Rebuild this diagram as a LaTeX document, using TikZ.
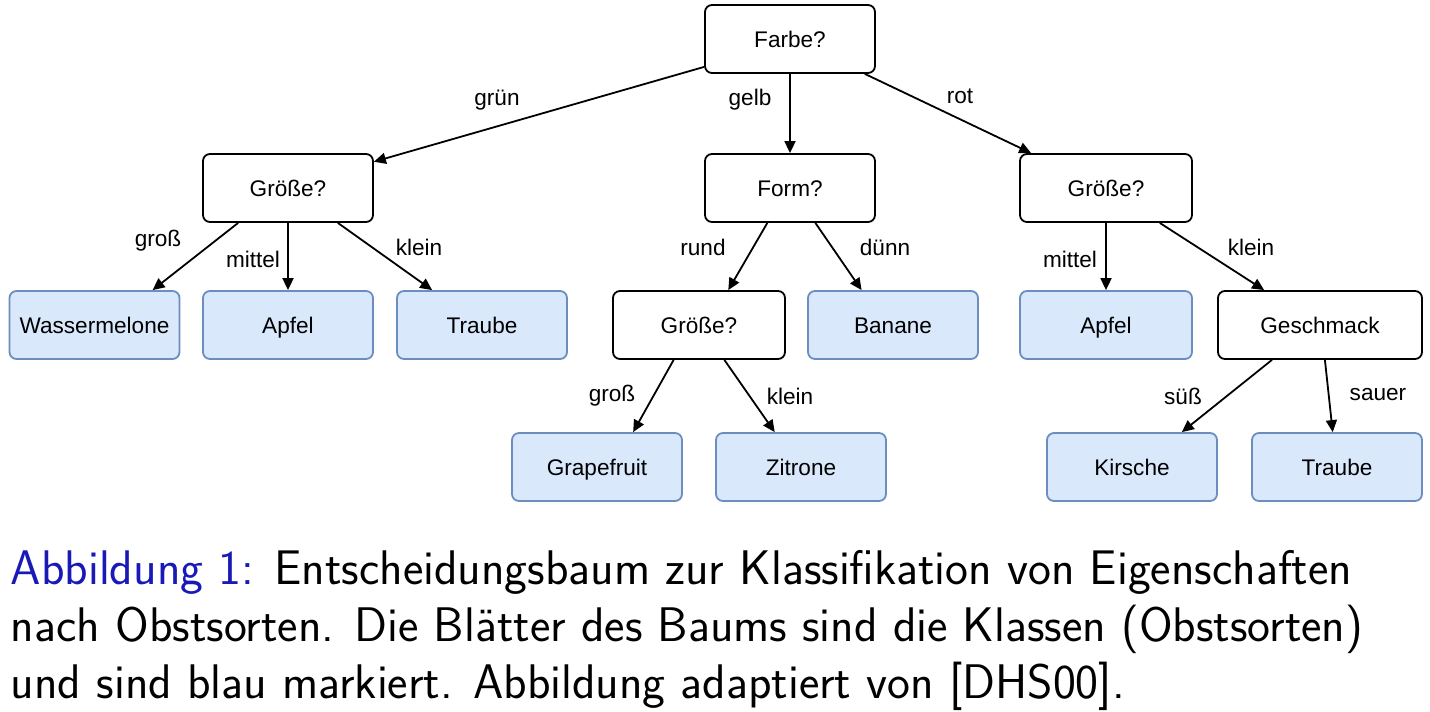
\documentclass[tikz,border=0pt]{standalone}
\usepackage{fontspec}
\newfontfamily\arialfont{Liberation Sans}
\usepackage{tikz}
\usetikzlibrary{arrows.meta}
\definecolor{leaffill}{HTML}{DAE8FC}
\definecolor{leafdraw}{HTML}{6C8EBF}
\definecolor{capblue}{rgb}{0.1,0.1,0.72}

\begin{document}
\begin{tikzpicture}[x=1pt, y=-1pt, line width=1.8pt, ->, >={Triangle[length=12pt,width=11pt]}]
  \tikzstyle{question}=[rectangle, rounded corners=7pt, draw=black, fill=white, minimum width=170pt, minimum height=68pt, inner sep=0pt, text height=16pt, text depth=0pt, font=\arialfont\fontsize{22.6}{26}\selectfont]
  \tikzstyle{leaf}=[question, draw=leafdraw, fill=leaffill]
  \tikzstyle{answer}=[inner sep=0pt, font=\arialfont\fontsize{22.6}{26}\selectfont]
  \useasboundingbox (0,0) rectangle (1430,712);

  \node[question] (F) at (790,39) {Farbe?};
  \node[question] (GL) at (288,188) {Größe?};
  \node[question] (FO) at (790,188) {Form?};
  \node[question, minimum width=172pt] (GR) at (1106,188) {Größe?};
  \node[leaf] (WM) at (94.5,325) {Wassermelone};
  \node[leaf] (AP_1) at (288,325) {Apfel};
  \node[leaf] (TR_1) at (482,325) {Traube};
  \node[question, minimum width=172pt] (GM) at (699,325) {Größe?};
  \node[leaf] (BA) at (893,325) {Banane};
  \node[leaf, minimum width=172pt] (AP_2) at (1106,325) {Apfel};
  \node[question, minimum width=204pt] (GE) at (1320,325) {Geschmack};
  \node[leaf] (GF) at (597,467) {Grapefruit};
  \node[leaf] (ZI) at (801,467) {Zitrone};
  \node[leaf] (KI) at (1132,467) {Kirsche};
  \node[leaf] (TR_2) at (1337,467) {Traube};

  \draw (F.198) -- (GL.17);
  \draw (F.south) -- (FO.north);
  \draw (F.-25) -- (GR.155);
  \draw (GL.215) -- (WM.31);
  \draw (GL.south) -- (AP_1.north);
  \draw (GL.-35) -- (TR_1.145);
  \draw (FO.237) -- (GM.50);
  \draw (FO.-54) -- (BA.132);
  \draw (GM.234) -- (GF.44);
  \draw (GM.-54) -- (ZI.127);
  \draw (GR.south) -- (AP_2.north);
  \draw (GR.-33) -- (GE.148);
  \draw (GE.216) -- (KI.35);
  \draw (GE.-82) -- (TR_2.97);

  \node[answer] (L_gruen) at (497,100) {grün};
  \node[answer] (L_gelb) at (750,100) {gelb};
  \node[answer] (L_rot) at (960,96) {rot};
  \node[answer] (L_gross_1) at (158,241) {groß};
  \node[answer] (L_mittel_1) at (253,259) {mittel};
  \node[answer] (L_klein_1) at (419,247) {klein};
  \node[answer] (L_rund) at (703,247) {rund};
  \node[answer] (L_duenn) at (885,247) {dünn};
  \node[answer] (L_gross_2) at (612,396) {groß};
  \node[answer] (L_klein_2) at (790,396) {klein};
  \node[answer] (L_mittel_2) at (1070,259) {mittel};
  \node[answer] (L_klein_3) at (1251,247) {klein};
  \node[answer] (L_suess) at (1183,396) {süß};
  \node[answer] (L_sauer) at (1378,395) {sauer};

  \node[anchor=north west, align=left, inner sep=0pt, font=\sffamily\fontsize{48.6}{57}\selectfont] (caption) at (10,549)
    {\textcolor{capblue}{Abbildung 1:} Entscheidungsbaum zur Klassifikation von Eigenschaften\\
     nach Obstsorten. Die Blätter des Baums sind die Klassen (Obstsorten)\\
     und sind blau markiert. Abbildung adaptiert von [DHS00].};
\end{tikzpicture}
\end{document}
